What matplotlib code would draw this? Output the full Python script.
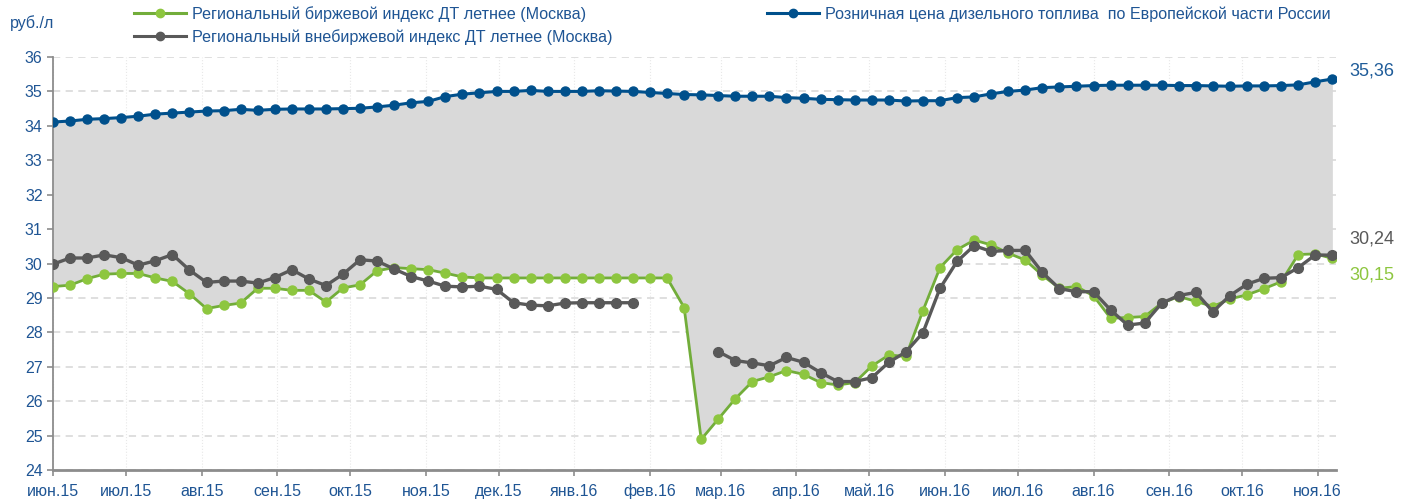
import matplotlib
matplotlib.use("Agg")
import matplotlib.pyplot as plt
import matplotlib.dates as mdates
from matplotlib.lines import Line2D
import numpy as np
import pandas as pd

plt.rcParams["font.family"] = ["Liberation Sans", "DejaVu Sans"]

# weekly observations, Monday 2015-06-01 .. 2016-11-07
weeks = pd.date_range("2015-06-01", periods=76, freq="7D")

retail = [
    34.11, 34.14, 34.19, 34.21, 34.24, 34.28, 34.34, 34.37, 34.40, 34.43,
    34.44, 34.48, 34.45, 34.48, 34.49, 34.49, 34.49, 34.50, 34.51, 34.55,
    34.60, 34.67, 34.71, 34.85, 34.92, 34.96, 35.00, 35.00, 35.03, 35.00,
    35.00, 35.00, 35.02, 35.01, 35.00, 34.97, 34.94, 34.91, 34.90, 34.88,
    34.86, 34.86, 34.86, 34.82, 34.80, 34.77, 34.76, 34.75, 34.75, 34.75,
    34.72, 34.73, 34.73, 34.82, 34.84, 34.93, 35.00, 35.04, 35.11, 35.13,
    35.15, 35.17, 35.18, 35.18, 35.18, 35.18, 35.17, 35.17, 35.16, 35.15,
    35.16, 35.16, 35.17, 35.19, 35.28, 35.36,
]

exchange = [
    29.33, 29.37, 29.56, 29.69, 29.71, 29.71, 29.58, 29.48, 29.12, 28.69,
    28.78, 28.85, 29.28, 29.28, 29.22, 29.22, 28.88, 29.29, 29.38, 29.79,
    29.88, 29.85, 29.82, 29.72, 29.61, 29.58, 29.58, 29.58, 29.58, 29.58,
    29.58, 29.58, 29.58, 29.58, 29.58, 29.58, 29.58, 28.72, 24.89, 25.48,
    26.07, 26.57, 26.71, 26.89, 26.78, 26.54, 26.47, 26.54, 27.02, 27.34,
    27.30, 28.63, 29.88, 30.40, 30.68, 30.54, 30.30, 30.10, 29.66, 29.28,
    29.33, 29.06, 28.41, 28.43, 28.46, 28.85, 29.04, 28.90, 28.75, 28.97,
    29.09, 29.27, 29.47, 30.26, 30.28, 30.15,
]

nan = np.nan
otc = [
    29.98, 30.16, 30.16, 30.25, 30.17, 29.95, 30.08, 30.26, 29.81, 29.45,
    29.49, 29.49, 29.43, 29.59, 29.82, 29.55, 29.36, 29.69, 30.11, 30.07,
    29.84, 29.62, 29.49, 29.34, 29.32, 29.34, 29.25, 28.86, 28.79, 28.77,
    28.85, 28.86, 28.86, 28.86, 28.86, nan, nan, nan, nan, 27.44,
    27.18, 27.11, 27.03, 27.27, 27.13, 26.83, 26.57, 26.57, 26.68, 27.13,
    27.43, 27.99, 29.28, 30.06, 30.52, 30.35, 30.38, 30.38, 29.74, 29.27,
    29.18, 29.18, 28.65, 28.21, 28.27, 28.85, 29.07, 29.16, 28.60, 29.07,
    29.40, 29.57, 29.59, 29.88, 30.25, 30.24,
]

month_names = ["янв", "фев", "мар", "апр", "май", "июн",
               "июл", "авг", "сен", "окт", "ноя", "дек"]

label_exchange = "Региональный биржевой индекс ДТ летнее (Москва)"
label_otc = "Региональный внебиржевой индекс ДТ летнее (Москва)"
label_retail = "Розничная цена дизельного топлива  по Европейской части России"

BLUE = "#00508c"
GREEN_LINE = "#72ad3a"
GREEN_DOT = "#8dc63f"
GREY = "#595959"
TEXT = "#1f5594"

fig = plt.figure(figsize=(14.06, 5.0), dpi=100)
ax = fig.add_axes([53 / 1406, 30 / 500, 1283 / 1406, 413 / 500])

x = mdates.date2num(weeks)
ax.fill_between(x, exchange, retail, color="#d9d9d9", lw=0, zorder=1)

ax.plot(x, retail, color=BLUE, lw=2.2, marker="o", ms=6.5, zorder=4)
ax.plot(x, exchange, color=GREEN_LINE, lw=2.0, marker="o", ms=6.5,
        mfc=GREEN_DOT, mec=GREEN_DOT, zorder=3)
ax.plot(x, otc, color=GREY, lw=2.4, marker="o", ms=7, zorder=3.5)

ax.set_ylim(24, 36)
ax.set_yticks(range(24, 37))
x0 = mdates.date2num(pd.Timestamp("2015-06-01"))
ax.set_xlim(x0, x[-1] + 1.5)

months = pd.date_range("2015-06-01", "2016-11-01", freq="MS")
ax.set_xticks(mdates.date2num(months))
ax.set_xticklabels([f"{month_names[m.month - 1]}.{m.year % 100}" for m in months])

ax.grid(axis="y", color="#dcdcdc", lw=1.3, ls=(0, (4, 3)), zorder=0)
ax.grid(axis="x", color="#e8e8e8", lw=0.8, ls=":", zorder=0)
ax.set_axisbelow(True)

for side in ("top", "right"):
    ax.spines[side].set_visible(False)
ax.spines["left"].set_color("#8c8c8c")
ax.spines["left"].set_linewidth(1.3)
ax.spines["bottom"].set_color("#8c8c8c")
ax.spines["bottom"].set_linewidth(2.0)
ax.tick_params(axis="both", colors="#8c8c8c", labelcolor=TEXT, labelsize=11.5,
               length=4, width=1.2)
ax.tick_params(axis="x", pad=6)

# end-of-series values
ax.annotate("35,36", (x[-1], retail[-1]), xytext=(12, 6), textcoords="offset points",
            color="#1f5c99", fontsize=13, va="center", ha="left")
ax.annotate("30,24", (x[-1], otc[-1]), xytext=(12, 12), textcoords="offset points",
            color=GREY, fontsize=13, va="center", ha="left")
ax.annotate("30,15", (x[-1], exchange[-1]), xytext=(12, -12), textcoords="offset points",
            color=GREEN_DOT, fontsize=13, va="center", ha="left")

fig.text(10 / 1406, 1 - 23 / 500, "руб./л", color=TEXT, fontsize=11.5, va="center")

h_green = Line2D([], [], color=GREEN_LINE, lw=2.2, marker="o", ms=6,
                 mfc=GREEN_DOT, mec=GREEN_DOT)
h_grey = Line2D([], [], color=GREY, lw=2.2, marker="o", ms=6)
h_blue = Line2D([], [], color=BLUE, lw=2.2, marker="o", ms=6)

leg1 = fig.legend([h_green, h_grey], [label_exchange, label_otc],
                  loc="upper left", bbox_to_anchor=(134 / 1406, 1 - 6 / 500),
                  frameon=False, fontsize=11.6, handlelength=3.2, handletextpad=0.4,
                  labelspacing=0.45, borderaxespad=0, borderpad=0)
for t in leg1.get_texts():
    t.set_color(TEXT)
leg2 = fig.legend([h_blue], [label_retail],
                  loc="upper left", bbox_to_anchor=(767 / 1406, 1 - 6 / 500),
                  frameon=False, fontsize=11.6, handlelength=3.2, handletextpad=0.4,
                  borderaxespad=0, borderpad=0)
for t in leg2.get_texts():
    t.set_color(TEXT)

fig.savefig("out.png", dpi=100)
